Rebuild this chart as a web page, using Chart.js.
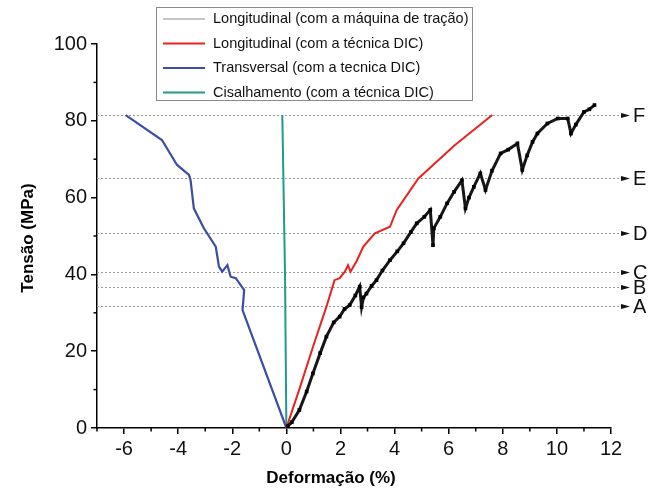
<!DOCTYPE html>
<html>
<head>
<meta charset="utf-8">
<script src="https://cdn.jsdelivr.net/npm/chart.js@4.4.1/dist/chart.umd.min.js"></script>
<style>
  body { margin: 0; background: #fff; }
  canvas { display: block; }
</style>
</head>
<body>
<canvas id="chart" width="649" height="491"></canvas>
<script>
// Curva da máquina de tração (longitudinal)
const maquinaDef = [0.05, 0.2, 0.48, 0.75, 0.98, 1.25, 1.48, 1.75, 1.97, 2.15, 2.34, 2.55, 2.71, 2.78, 2.85, 2.96,
  3.15, 3.33, 3.55, 3.83, 4.1, 4.33, 4.6, 4.82, 5.1, 5.32, 5.42, 5.45, 5.69, 5.94, 6.2, 6.49, 6.62, 6.75,
  6.93, 7.17, 7.36, 7.6, 7.92, 8.2, 8.54, 8.72, 8.9, 9.1, 9.28, 9.65, 10.03, 10.4, 10.52, 10.7, 11.0, 11.2, 11.39];
const maquinaTensao = [0.5, 1.5, 4.7, 9.5, 14.2, 19.5, 23.8, 27.5, 29.0, 31.0, 32.0, 34.5, 36.8, 31.5, 34.0, 35.0,
  37.0, 38.5, 41.0, 43.7, 46.0, 48.1, 51.0, 53.3, 55.0, 56.8, 47.6, 52.0, 55.0, 58.5, 61.5, 64.5, 57.2, 60.0,
  62.8, 66.3, 62.0, 67.0, 71.5, 72.5, 74.1, 67.2, 71.0, 74.5, 76.7, 79.3, 80.6, 80.6, 76.7, 79.0, 82.3, 83.0, 84.1];

// Longitudinal com DIC
const longDef = [0, 0.5, 1.0, 1.5, 1.78, 1.97, 2.16, 2.28, 2.37, 2.6, 2.84, 3.27, 3.83, 4.08, 4.88, 6.2, 7.61];
const longTensao = [0, 10.5, 21.5, 32, 38.5, 39, 40.7, 42.4, 40.7, 43.5, 47.2, 50.7, 52.4, 56.8, 65, 73.5, 81.5];

// Transversal com DIC
const transDef = [-5.94, -4.6, -4.04, -3.6, -3.54, -3.42, -3.05, -2.61, -2.49, -2.37, -2.18, -2.06, -1.87, -1.56, -1.62, 0];
const transTensao = [81.5, 75, 68.5, 65.9, 64.5, 57.2, 52, 47.2, 42, 40.7, 42.4, 39.4, 39, 35.9, 30.7, 0];

// Cisalhamento com DIC
const cisDef = [0, -0.05, -0.15];
const cisTensao = [0, 40, 81.5];

// Níveis de tensão marcados à direita
const niveisLetra = ['A', 'B', 'C', 'D', 'E', 'F'];
const niveisTensao = [31.8, 36.8, 40.7, 50.7, 65, 81.5];

const xTicks = [-6, -4, -2, 0, 2, 4, 6, 8, 10, 12];
const yTicks = [0, 20, 40, 60, 80, 100];

const legendColors = ['#8c8c8c', '#e8221f', '#3b4ea6', '#1f9a8c'];

const FONT = "'Liberation Sans', Arial, sans-serif";

function pares(xs, ys) {
  return xs.map((x, i) => ({ x: x, y: ys[i] }));
}

const extras = {
  id: 'extras',
  beforeDatasetsDraw(chart) {
    const ctx = chart.ctx;
    const area = chart.chartArea;
    const y = chart.scales.y;
    ctx.save();
    niveisTensao.forEach((v, i) => {
      const py = Math.round(y.getPixelForValue(v)) + 0.5;
      ctx.strokeStyle = '#9a9a9a';
      ctx.lineWidth = 1;
      ctx.setLineDash([2, 2]);
      ctx.beginPath();
      ctx.moveTo(area.left, py);
      ctx.lineTo(area.right + 9, py);
      ctx.stroke();
      ctx.setLineDash([]);
      // seta
      ctx.fillStyle = '#111';
      ctx.beginPath();
      ctx.moveTo(area.right + 10, py - 2.5);
      ctx.lineTo(area.right + 19, py);
      ctx.lineTo(area.right + 10, py + 2.5);
      ctx.closePath();
      ctx.fill();
      ctx.font = '20px ' + FONT;
      ctx.textBaseline = 'middle';
      ctx.textAlign = 'left';
      ctx.fillText(niveisLetra[i], area.right + 22, py + 1);
    });
    ctx.restore();
  },
  afterDraw(chart) {
    const ctx = chart.ctx;
    const area = chart.chartArea;
    const xs = chart.scales.x;
    const ys = chart.scales.y;
    ctx.save();
    // ticks menores
    ctx.strokeStyle = '#000';
    ctx.lineWidth = 1.5;
    for (let v = -7; v <= 12; v++) {
      if (xTicks.includes(v)) continue;
      const px = xs.getPixelForValue(v);
      ctx.beginPath();
      ctx.moveTo(px, area.bottom);
      ctx.lineTo(px, area.bottom + 3.5);
      ctx.stroke();
    }
    for (let v = 10; v < 100; v += 20) {
      const py = ys.getPixelForValue(v);
      ctx.beginPath();
      ctx.moveTo(area.left, py);
      ctx.lineTo(area.left - 3.5, py);
      ctx.stroke();
    }

    // títulos dos eixos
    ctx.fillStyle = '#000';
    ctx.font = 'bold 17px ' + FONT;
    ctx.textAlign = 'center';
    ctx.textBaseline = 'middle';
    ctx.fillText('Deformação (%)', 331, 478);
    ctx.translate(28, 238);
    ctx.rotate(-Math.PI / 2);
    ctx.fillText('Tensão (MPa)', 0, 0);
    ctx.setTransform(1, 0, 0, 1, 0, 0);

    // legenda
    const bx = 156, by = 7, bw = 316, bh = 93;
    ctx.fillStyle = '#fff';
    ctx.fillRect(bx, by, bw, bh);
    ctx.strokeStyle = '#8a8a8a';
    ctx.lineWidth = 1;
    ctx.strokeRect(bx + 0.5, by + 0.5, bw, bh);
    ctx.font = '14.5px ' + FONT;
    ctx.textAlign = 'left';
    ctx.textBaseline = 'middle';
    chart.data.datasets.forEach((ds, i) => {
      const ly = by + 12 + i * 24.5;
      ctx.strokeStyle = legendColors[i];
      ctx.lineWidth = i === 0 ? 1.2 : 2;
      ctx.beginPath();
      ctx.moveTo(bx + 7, ly);
      ctx.lineTo(bx + 49, ly);
      ctx.stroke();
      ctx.fillStyle = '#111';
      ctx.fillText(ds.label, bx + 57, ly);
    });
    ctx.restore();
  }
};

new Chart(document.getElementById('chart'), {
  type: 'scatter',
  data: {
    datasets: [
      {
        label: 'Longitudinal (com a máquina de tração)',
        data: pares(maquinaDef, maquinaTensao),
        showLine: true,
        borderColor: '#161616',
        borderWidth: 3,
        pointStyle: 'rect',
        pointRadius: 2.6,
        pointBackgroundColor: '#000',
        pointBorderWidth: 0
      },
      {
        label: 'Longitudinal (com a técnica DIC)',
        data: pares(longDef, longTensao),
        showLine: true,
        borderColor: legendColors[1],
        borderWidth: 2,
        pointRadius: 0
      },
      {
        label: 'Transversal (com a tecnica DIC)',
        data: pares(transDef, transTensao),
        showLine: true,
        borderColor: legendColors[2],
        borderWidth: 2.2,
        pointRadius: 0
      },
      {
        label: 'Cisalhamento (com a técnica DIC)',
        data: pares(cisDef, cisTensao),
        showLine: true,
        borderColor: legendColors[3],
        borderWidth: 2,
        pointRadius: 0
      }
    ]
  },
  options: {
    responsive: false,
    animation: false,
    layout: { padding: { top: 44, right: 38, left: 0, bottom: 0 } },
    plugins: {
      legend: { display: false },
      tooltip: { enabled: false }
    },
    scales: {
      x: {
        type: 'linear',
        min: -7,
        max: 12,
        afterBuildTicks: (s) => { s.ticks = xTicks.map(v => ({ value: v })); },
        afterFit: (s) => { s.height = 63; },
        grid: { display: true, drawOnChartArea: false, drawTicks: true, tickLength: 6, color: '#000', lineWidth: 1.5 },
        border: { display: true, color: '#000', width: 1.5 },
        ticks: { font: { size: 20, family: FONT }, color: '#111', padding: 3, maxRotation: 0 }
      },
      y: {
        type: 'linear',
        min: 0,
        max: 100,
        afterBuildTicks: (s) => { s.ticks = yTicks.map(v => ({ value: v })); },
        afterFit: (s) => { s.width = 97; },
        grid: { display: true, drawOnChartArea: false, drawTicks: true, tickLength: 6, color: '#000', lineWidth: 1.5 },
        border: { display: true, color: '#000', width: 1.5 },
        ticks: { font: { size: 20, family: FONT }, color: '#111', padding: 4 }
      }
    }
  },
  plugins: [extras]
});
</script>
</body>
</html>
